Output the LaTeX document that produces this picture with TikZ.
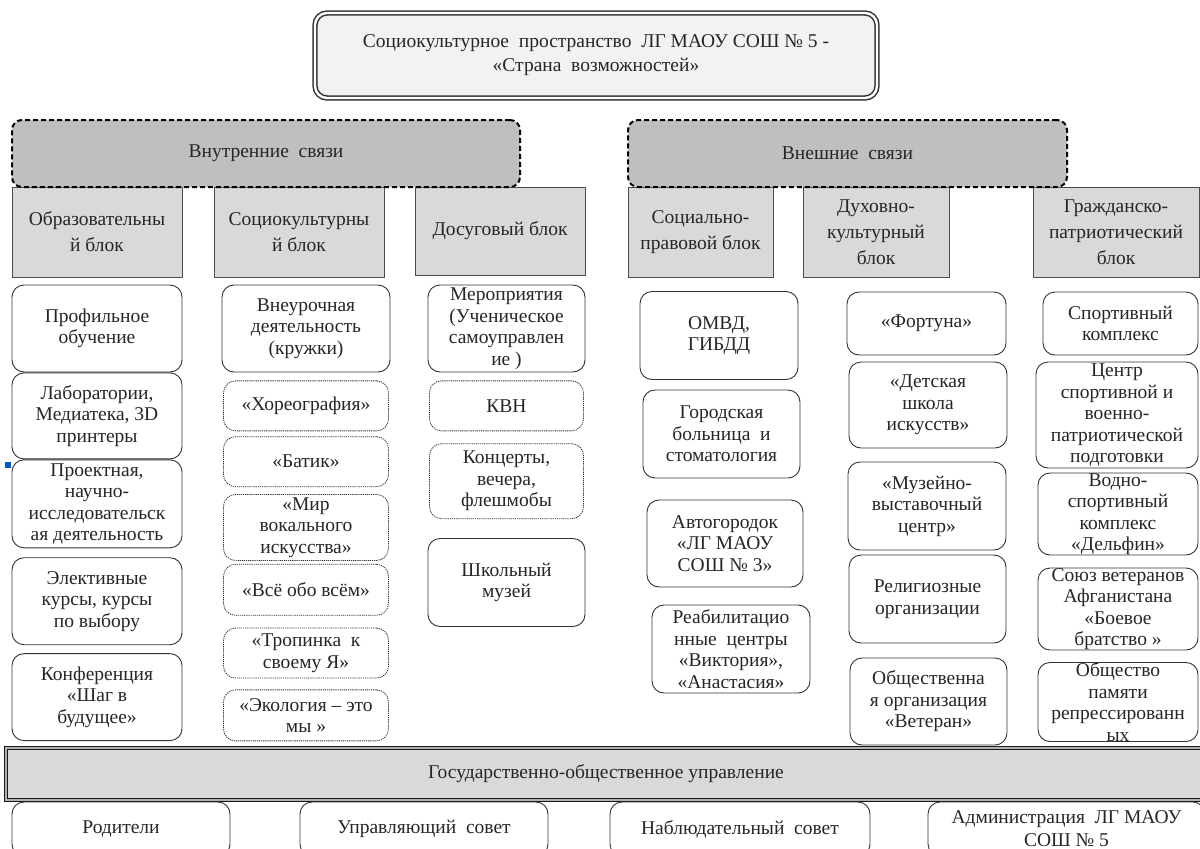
\documentclass[tikz,border=0pt]{standalone}
\usepackage{fontspec}
\setmainfont{Liberation Serif}
\usetikzlibrary{positioning}

\begin{document}
\begin{tikzpicture}[x=1pt, y=-1pt, every node/.style={text=black!85}]

  \tikzstyle{frame}=[draw=black!80, align=center, inner sep=0pt, font=\fontsize{19.5}{21.5}\selectfont]
  \tikzstyle{maintitle}=[frame, rounded corners=12pt, double, double distance=2.4pt, line width=1.5pt, fill=gray!10, minimum width=562pt, minimum height=85pt, font=\fontsize{19.5}{24}\selectfont]
  \tikzstyle{linkgroup}=[frame, draw=black, rounded corners=10pt, line width=2pt, dash pattern=on 5pt off 3pt, fill=gray!50, minimum height=67pt, font=\fontsize{19.5}{22}\selectfont]
  \tikzstyle{blockhead}=[frame, fill=gray!30, draw=black!70, line width=0.8pt, minimum height=90pt, font=\fontsize{19.5}{26}\selectfont]
  \tikzstyle{entry}=[frame, rounded corners=12pt, line width=0.9pt, fill=white]
  \tikzstyle{club}=[entry, dash pattern=on 1.2pt off 0.9pt, line width=0.8pt]
  \tikzstyle{council}=[frame, rounded corners=12pt, line width=0.9pt, fill=white, minimum height=54pt, font=\fontsize{19.5}{23}\selectfont]

  \useasboundingbox [fill=white] (0,0) rectangle (1200,849);

  % top
  \node [maintitle] (space) at (596, 55.5) {
    Социокультурное\ \ пространство\ \ ЛГ МАОУ СОШ № 5 - \\
    «Страна\ \ возможностей»
  };

  % block headers
  \node [blockhead, minimum width=170pt] (edu) at (97, 232) {Образовательны \\ й блок};
  \node [blockhead, minimum width=170pt] (soc) at (299, 232) {Социокультурны \\ й блок};
  \node [blockhead, minimum width=170pt, minimum height=88pt] (leis) at (500, 231) {Досуговый блок};
  \node [blockhead, minimum width=145pt] (law) at (700.5, 232) {Социально- \\ правовой блок};
  \node [blockhead, minimum width=146pt] (spirit) at (876, 232) {Духовно- \\ культурный \\ блок};
  \node [blockhead, minimum width=166pt] (civic) at (1116, 232) {Гражданско- \\ патриотический \\ блок};

  \node [linkgroup, minimum width=508pt] (inner) at (266, 153.5) {Внутренние\ \ связи};
  \node [linkgroup, minimum width=439pt] (outer) at (847.5, 153.5) {Внешние\ \ связи};

  % educational
  \node [entry, minimum width=170pt, minimum height=87pt] (A-1) at (97, 328.5) {Профильное \\ обучение};
  \node [entry, minimum width=170pt, minimum height=86pt, below = 0pt of A-1] (A-2) {Лаборатории, \\ Медиатека, 3D \\ принтеры};
  \node [entry, minimum width=170pt, minimum height=88pt, below = 0pt of A-2] (A-3) {Проектная, \\ научно- \\ исследовательск \\ ая деятельность};
  \node [entry, minimum width=170pt, minimum height=87pt, below = 9pt of A-3] (A-4) {Элективные \\ курсы, курсы \\ по выбору};
  \node [entry, minimum width=170pt, minimum height=87pt, below = 8pt of A-4] (A-5) {Конференция \\ «Шаг в \\ будущее»};
  \fill [blue!55!cyan!80!black] (5, 462) rectangle (11, 468);

  % sociocultural
  \node [entry, minimum width=168pt, minimum height=87pt] (B-1) at (306, 328.5) {Внеурочная \\ деятельность \\ (кружки)};
  \node [club, minimum width=165pt, minimum height=50pt, below = 8pt of B-1] (B-2) {«Хореография»};
  \node [club, minimum width=165pt, minimum height=50pt, below = 5pt of B-2] (B-3) {«Батик»};
  \node [club, minimum width=165pt, minimum height=66pt, below = 7pt of B-3] (B-4) {«Мир \\ вокального \\ искусства»};
  \node [club, minimum width=165pt, minimum height=51pt, below = 3pt of B-4] (B-5) {«Всё обо всём»};
  \node [club, minimum width=165pt, minimum height=50pt, below = 12pt of B-5] (B-6) {«Тропинка\ \ к \\ своему Я»};
  \node [club, minimum width=165pt, minimum height=51pt, below = 11pt of B-6] (B-7) {«Экология – это \\ мы »};

  % leisure
  \node [entry, minimum width=157pt, minimum height=87pt] (C-1) at (506.5, 328.5) {Мероприятия \\ (Ученическое \\ самоуправлен \\ ие )};
  \node [club, minimum width=154pt, minimum height=50pt, below = 8pt of C-1] (C-2) {КВН};
  \node [club, minimum width=154pt, minimum height=75pt, below = 12pt of C-2] (C-3) {Концерты, \\ вечера, \\ флешмобы};
  \node [entry, minimum width=157pt, minimum height=88pt, below = 19pt of C-3] (C-4) {Школьный \\ музей};

  % social and legal
  \node [entry, minimum width=158pt, minimum height=88pt] (D-1) at (719, 335.5) {ОМВД, \\ ГИБДД};
  \node [entry, minimum width=157pt, minimum height=88pt] (D-2) at (721.5, 434) {Городская \\ больница\ \ и \\ стоматология};
  \node [entry, minimum width=156pt, minimum height=87pt] (D-3) at (725, 543.5) {Автогородок \\ «ЛГ МАОУ \\ СОШ № 3»};
  \node [entry, minimum width=158pt, minimum height=88pt] (D-4) at (731, 649) {Реабилитацио \\ нные\ \ центры \\ «Виктория», \\ «Анастасия»};

  % spiritual and cultural
  \node [entry, minimum width=159pt, minimum height=63pt] (E-1) at (926.5, 323.5) {«Фортуна»};
  \node [entry, minimum width=158pt, minimum height=86pt] (E-2) at (928, 405) {«Детская \\ школа \\ искусств»};
  \node [entry, minimum width=158pt, minimum height=88pt] (E-3) at (927, 506) {«Музейно- \\ выставочный \\ центр»};
  \node [entry, minimum width=157pt, minimum height=88pt] (E-4) at (927.5, 599) {Религиозные \\ организации};
  \node [entry, minimum width=157pt, minimum height=87pt] (E-5) at (928.5, 701.5) {Общественна \\ я организация \\ «Ветеран»};

  % civic and patriotic
  \node [entry, minimum width=155pt, minimum height=63pt] (F-1) at (1120.5, 323.5) {Спортивный \\ комплекс};
  \node [entry, minimum width=162pt, minimum height=106pt] (F-2) at (1117, 415) {Центр \\ спортивной и \\ военно- \\ патриотической \\ подготовки};
  \node [entry, minimum width=160pt, minimum height=82pt] (F-3) at (1118, 514) {Водно- \\ спортивный \\ комплекс \\ «Дельфин»};
  \node [entry, minimum width=160pt, minimum height=82pt] (F-4) at (1118, 609) {Союз ветеранов \\ Афганистана \\ «Боевое \\ братство »};
  \node [entry, minimum width=160pt, minimum height=79pt] (F-5) at (1118, 702) {Общество \\ памяти \\ репрессированн \\ ых};

  % management
  \node [frame, draw=black!90, double=gray!60, double distance=1.5pt, line width=1.6pt, fill=gray!30, minimum width=1200pt, minimum height=52pt, font=\fontsize{19.5}{22}\selectfont] (gov) at (606, 774) {Государственно-общественное управление};

  \node [council, minimum width=218pt] (parents) at (121, 829) {Родители};
  \node [council, minimum width=248pt] (board) at (424, 829) {Управляющий\ \ совет};
  \node [council, minimum width=260pt] (watch) at (740, 829) {Наблюдательный\ \ совет};
  \node [council, minimum width=277pt] (admin) at (1066.5, 829) {Администрация\ \ ЛГ МАОУ \\ СОШ № 5};

\end{tikzpicture}
\end{document}
